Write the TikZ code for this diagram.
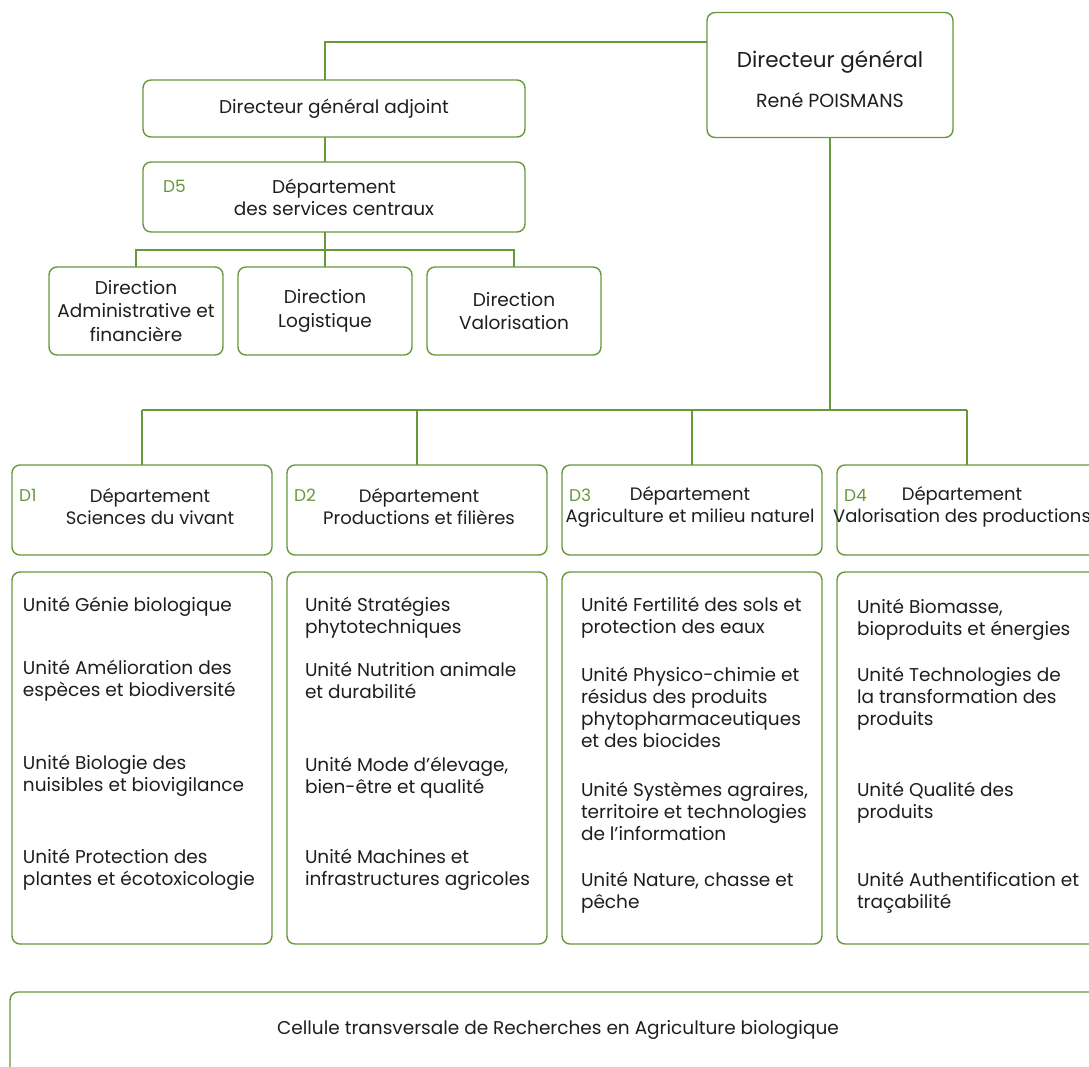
\documentclass[tikz,border=0pt]{standalone}
\usepackage{fontspec}
\setmainfont{Poppins}
\definecolor{orgGreen}{HTML}{67983A}
\definecolor{orgInk}{HTML}{1E1E1E}
\tikzset{
  org chart/.style={
    x=1pt, y=-1pt,
    every node/.style={font=\fontsize{18.5}{22}\selectfont,
      text=orgInk, inner sep=0pt, outer sep=0pt}
  },
  org box/.style={draw=orgGreen, line width=1.4pt, rounded corners=8pt},
  org line/.style={draw=orgGreen, line width=1.4pt},
  org tag/.style={text=orgGreen, font=\fontsize{17}{20}\selectfont},
  org title/.style={align=center, font=\fontsize{18}{22}\selectfont},
  org unit/.style={align=left, anchor=north west},
  org direction/.style={org box, minimum width=174, minimum height=88, align=center,
    font=\fontsize{18.5}{23.5}\selectfont}
}
\newcommand{\OrgDepartment}[7]{%
  \node[org box, minimum width=260, minimum height=90] (#2) at (#1,510) {};
  \node[org title] (#2-title) at ([xshift=#4pt,yshift=3pt]#2.center) {#5};
  \node[org tag, anchor=west] (#2-tag) at ([xshift=7pt,yshift=15pt]#2.west) {#3};
  \node[org box, minimum width=260, minimum height=372] (#2-units) at (#1,758) {};
  \foreach \orgY/\orgText in {#7} {
    \node[org unit] (#2-unit-\orgY) at (#6,\orgY) {\orgText};
  }
}

\begin{document}
\begin{tikzpicture}[org chart]
  \useasboundingbox (0,0) rectangle (1089,1066);
  \clip (0,0) rectangle (1089,1066);
  \node[org box, minimum width=246, minimum height=125] (dg) at (830,75) {};
  \node[font=\fontsize{21.5}{26}\selectfont] (dg-title) at ([yshift=13pt]dg.center) {Directeur général};
  \node[font=\fontsize{19}{24}\selectfont] (dg-name) at ([yshift=-25pt]dg.center) {René POISMANS};
  \node[org box, minimum width=382, minimum height=57] (dga) at (334,108.5) {Directeur général adjoint};
  \node[org box, minimum width=382, minimum height=70, align=center] (d5) at (334,197)
    {Département\\des services centraux};
  \node[org tag, anchor=west] (d5-tag) at ([xshift=20pt,yshift=11pt]d5.west) {D5};
  \node[org direction] (dir1) at (136,311) {Direction\\Administrative et\\financière};
  \node[org direction] (dir2) at (325,311) {Direction\\Logistique};
  \node[org direction] (dir3) at (514,311) {Direction\\Valorisation};
  \OrgDepartment{142}{d1}{D1}{8}{Département\\Sciences du vivant}{23}
    {597/{Unité Génie biologique},
     660/{Unité Amélioration des\\espèces et biodiversité},
     755/{Unité Biologie des\\nuisibles et biovigilance},
     849/{Unité Protection des\\plantes et écotoxicologie}}
  \OrgDepartment{417}{d2}{D2}{2}{Département\\Productions et filières}{305}
    {597/{Unité Stratégies\\phytotechniques},
     662/{Unité Nutrition animale\\et durabilité},
     757/{Unité Mode d’élevage,\\bien-être et qualité},
     849/{Unité Machines et\\infrastructures agricoles}}
  \OrgDepartment{692}{d3}{D3}{-2}{Département\\Agriculture et milieu naturel}{581}
    {597/{Unité Fertilité des sols et\\protection des eaux},
     667/{Unité Physico-chimie et\\résidus des produits\\phytopharmaceutiques\\et des biocides},
     782/{Unité Systèmes agraires,\\territoire et technologies\\de l’information},
     872/{Unité Nature, chasse et\\pêche}}
  \OrgDepartment{967}{d4}{D4}{-5}{Département\\Valorisation des productions}{857}
    {599/{Unité Biomasse,\\bioproduits et énergies},
     667/{Unité Technologies de\\la transformation des\\produits},
     782/{Unité Qualité des\\produits},
     872/{Unité Authentification et\\traçabilité}}
  \node[org box, minimum width=1120, minimum height=120, anchor=north west] (cell) at (10,992) {};
  \node (cell-text) at (558,1030) {Cellule transversale de Recherches en Agriculture biologique};
  \coordinate (dirbus) at (0,250);
  \coordinate (deptbus) at (0,410);
  \draw[org line] (dga.north -| dir2.north) |- ([yshift=33pt]dg.west);
  \draw[org line] (dga.south -| dir2.north) -- (d5.north -| dir2.north);
  \draw[org line] (d5.south -| dir2.north) -- (dir2.north);
  \draw[org line] (dir1.north) |- (dirbus -| dir3.north) -- (dir3.north);
  \draw[org line] (dg.south) -- (dg.south |- deptbus);
  \draw[org line] (d1.north |- deptbus) -- (d4.north |- deptbus);
  \foreach \orgDept in {d1,d2,d3,d4} {
    \draw[org line] (\orgDept.north) -- (\orgDept.north |- deptbus);
  }
\end{tikzpicture}
\end{document}
